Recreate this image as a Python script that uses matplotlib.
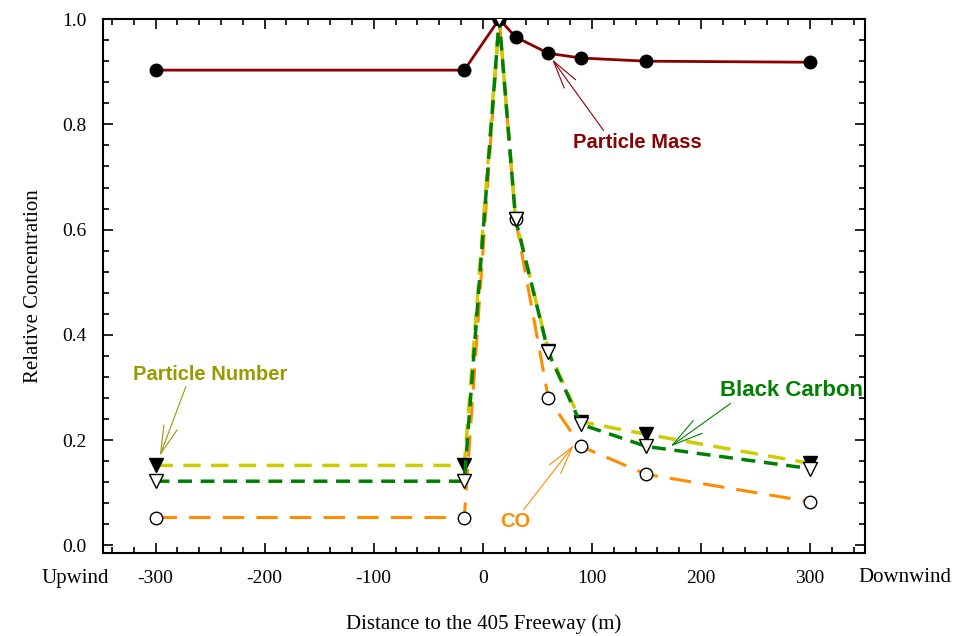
import matplotlib
matplotlib.use("Agg")
import matplotlib.pyplot as plt
from matplotlib.ticker import MultipleLocator

distance = [-300, -17, 15, 30, 60, 90, 150, 300]
particle_mass = [0.903, 0.903, 1.0, 0.966, 0.935, 0.926, 0.920, 0.918]
particle_number = [0.152, 0.152, 1.0, 0.62, 0.37, 0.235, 0.211, 0.156]
black_carbon = [0.122, 0.122, 1.0, 0.62, 0.367, 0.230, 0.188, 0.146]
co = [0.053, 0.053, 1.0, 0.62, 0.280, 0.188, 0.135, 0.083]

x_ticks = [-300, -200, -100, 0, 100, 200, 300]
y_ticks = [0.0, 0.2, 0.4, 0.6, 0.8, 1.0]

fig = plt.figure(figsize=(9.64, 6.36), dpi=100)
ax = fig.add_axes([0.107, 0.130, 0.790, 0.840])

serif = "Liberation Serif"
sans = "Liberation Sans"

ms = 9
ax.plot(distance, co, color="#FF8C00", lw=2.2, dashes=(7, 4), zorder=2,
        marker="o", mfc="white", mec="black", mew=1.0, ms=ms)
ax.plot(distance, particle_number, color="#CCCC00", lw=2.5, dashes=(5, 3), zorder=3,
        marker="v", mfc="black", mec="black", mew=1.0, ms=ms + 1)
ax.plot(distance, black_carbon, color="#008000", lw=2.5, dashes=(4, 2.5), zorder=4,
        marker="v", mfc="white", mec="black", mew=1.0, ms=ms + 1)
ax.plot(distance, particle_mass, color="#8B0000", lw=2.0, zorder=5,
        marker="o", mfc="black", mec="black", ms=ms)
# peak marker on top
ax.plot([distance[2]], [black_carbon[2]], ls="none", marker="v", mfc="white",
        mec="black", mew=1.0, ms=ms + 1, zorder=6)

ax.set_xlim(-348, 350)
ax.set_ylim(-0.015, 1.0)
ax.set_xticks(x_ticks)
ax.set_yticks(y_ticks)
ax.set_xticklabels([str(v) for v in x_ticks], fontfamily=serif, fontsize=14)
ax.set_yticklabels([f"{v:.1f}" for v in y_ticks], fontfamily=serif, fontsize=14)
ax.xaxis.set_minor_locator(MultipleLocator(20))
ax.yaxis.set_minor_locator(MultipleLocator(0.04))
ax.tick_params(which="both", direction="in", top=True, right=True, width=1.2)
ax.tick_params(which="major", length=7, pad=12)
ax.tick_params(which="minor", length=4)
for s in ax.spines.values():
    s.set_linewidth(1.5)

ax.set_xlabel("Distance to the 405 Freeway (m)", fontfamily=serif, fontsize=15, labelpad=20)
ax.set_ylabel("Relative Concentration", fontfamily=serif, fontsize=15, labelpad=14)

fig.text(75 / 964, 1 - 578 / 636, "Upwind", fontfamily=serif, fontsize=15, ha="center", va="center")
fig.text(905 / 964, 1 - 578 / 636, "Downwind", fontfamily=serif, fontsize=15, ha="center", va="center")

arrow = dict(arrowstyle="->,head_length=1.4,head_width=0.35", lw=0.8, shrinkA=0, shrinkB=2)

ax.annotate("Particle Mass", xy=(62, 0.928), xytext=(142, 0.765),
            color="#8B0000", fontfamily=sans, fontweight="bold", fontsize=14.5,
            ha="center", va="center",
            arrowprops=dict(arrow, color="#8B0000", relpos=(0.25, 1.0)))
ax.annotate("Particle Number", xy=(-297, 0.165), xytext=(-250, 0.325),
            color="#999900", fontfamily=sans, fontweight="bold", fontsize=14.5,
            ha="center", va="center",
            arrowprops=dict(arrow, color="#999900", relpos=(0.35, 0.0)))
ax.annotate("Black Carbon", xy=(170, 0.185), xytext=(283, 0.295),
            color="#008000", fontfamily=sans, fontweight="bold", fontsize=16,
            ha="center", va="center",
            arrowprops=dict(arrow, color="#008000", relpos=(0.1, 0.0)))
ax.annotate("CO", xy=(85, 0.195), xytext=(30, 0.045),
            color="#FF8C00", fontfamily=sans, fontweight="bold", fontsize=14.5,
            ha="center", va="center",
            arrowprops=dict(arrow, color="#FF8C00", relpos=(0.7, 1.0)))

fig.savefig("out.png", dpi=100)
